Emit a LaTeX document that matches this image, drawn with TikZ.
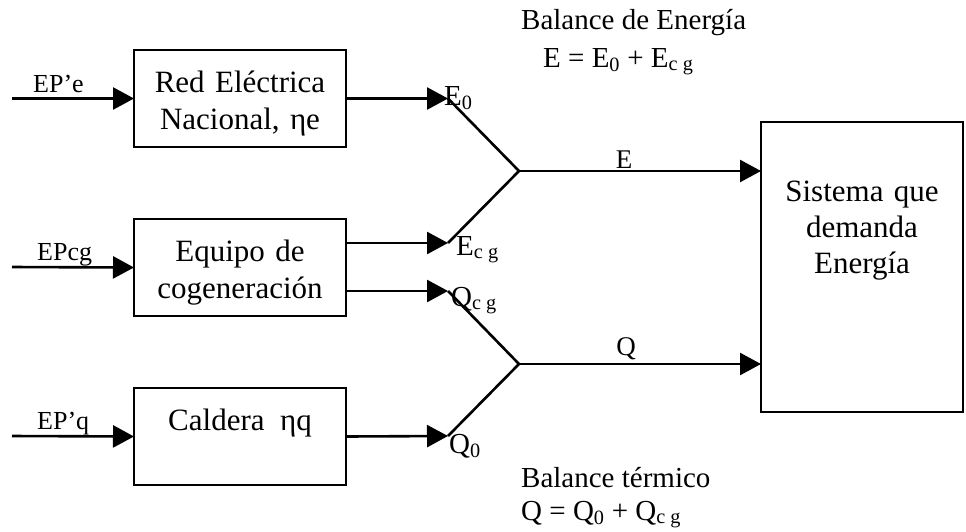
\documentclass[tikz,border=0pt]{standalone}
\usepackage{fontspec}
\setmainfont{Liberation Serif}
\usetikzlibrary{arrows.meta}
\begin{document}
\begin{tikzpicture}[x=1pt,y=-1pt,
  ln/.style={line width=2.6pt},
  arr/.style={ln, -{Triangle[length=21pt,width=22pt]}},
  blk/.style={draw, line width=2.6pt, inner sep=0pt, outer sep=0pt, text width=212pt, align=center,
    font=\fontsize{31}{37}\selectfont, text height=42pt, text depth=55pt, anchor=north west},
  sysblk/.style={draw, line width=2.6pt, inner sep=0pt, outer sep=0pt, text width=202pt, align=center,
    font=\fontsize{31}{36}\selectfont, text height=79pt, text depth=211pt, anchor=north west},
  inlbl/.style={inner sep=0pt, anchor=base west, font=\fontsize{26}{30}\selectfont},
  ptlbl/.style={inner sep=0pt, anchor=base west, font=\fontsize{29}{32}\selectfont},
  flowlbl/.style={inner sep=0pt, anchor=base, font=\fontsize{27}{30}\selectfont},
  ballbl/.style={inner sep=0pt, anchor=base west, font=\fontsize{29}{32}\selectfont}]
\useasboundingbox (0,0) rectangle (966,531);

% blocks
\node[blk] (red) at (134,50) {Red Eléctrica\\Nacional, ηe};
\node[blk] (eq) at (134,219) {Equipo de\\cogeneración};
\node[blk] (cal) at (134,388) {Caldera\hspace{0.5em}ηq};
\node[sysblk] (sis) at (761,122) {Sistema que\\demanda\\Energía};

% input arrows
\coordinate (inE) at (12,98.5);
\coordinate (inC) at (12,267);
\coordinate (inQ) at (12,436);
\draw[arr] (inE) -- (red.west);
\draw[arr] (inC) -- (eq.west);
\draw[arr] (inQ) -- (cal.west);
\node[inlbl] (lEPe) at (33,92) {EP’e};
\node[inlbl] (lEPcg) at (37,260) {EPcg};
\node[inlbl] (lEPq) at (37,429) {EP’q};

% tips and junctions
\coordinate (tE0) at (448,98.5);
\coordinate (tEcg) at (448,243);
\coordinate (tQcg) at (448,291);
\coordinate (tQ0) at (448,436);
\coordinate (jE) at (519,171);
\coordinate (jQ) at (519,364);

\draw[arr] (red.east) -- (tE0);
\draw[arr] (eq.east |- tEcg) -- (tEcg);
\draw[arr] (eq.east |- tQcg) -- (tQcg);
\draw[arr] (cal.east) -- (tQ0);

\draw[ln] (tE0) -- (jE) -- (tEcg);
\draw[ln] (tQcg) -- (jQ) -- (tQ0);

\draw[arr] (jE) -- (sis.west |- jE);
\draw[arr] (jQ) -- (sis.west |- jQ);

% labels
\node[ptlbl] (lE0) at (444,105) {E\textsubscript{0}};
\node[ptlbl] (lEcg) at (456,255) {E\textsubscript{c g}};
\node[ptlbl] (lQcg) at (451,306) {Q\textsubscript{c g}};
\node[ptlbl] (lQ0) at (449,453) {Q\textsubscript{0}};
\node[flowlbl] (lE) at (624,168) {E};
\node[flowlbl] (lQ) at (626,355) {Q};

\node[ballbl] (balE) at (521,29) {Balance de Energía};
\node[ballbl] (eqE) at (543,67) {E = E\textsubscript{0} + E\textsubscript{c g}};
\node[ballbl] (balQ) at (521,487) {Balance térmico};
\node[ballbl] (eqQ) at (521,520) {Q = Q\textsubscript{0} + Q\textsubscript{c g}};
\end{tikzpicture}
\end{document}
